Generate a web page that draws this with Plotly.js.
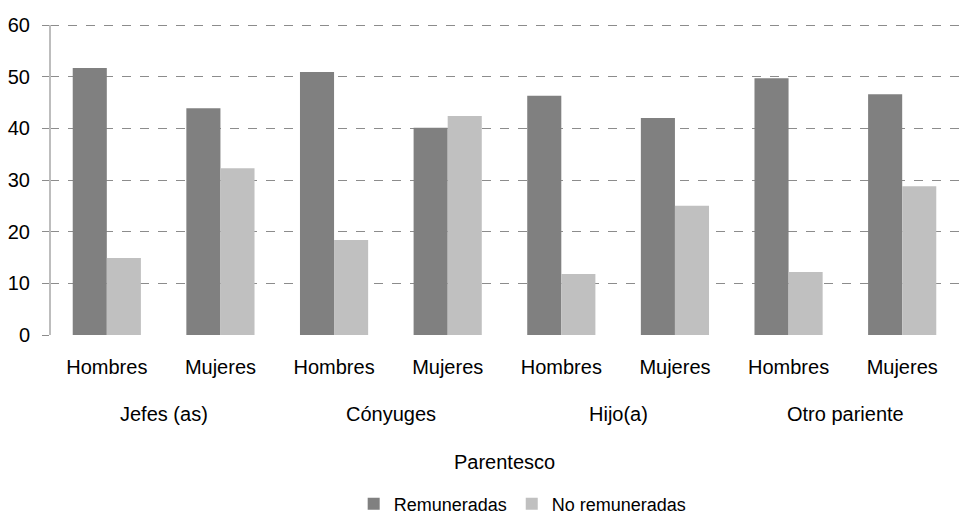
<!DOCTYPE html>
<html>
<head>
<meta charset="utf-8">
<script src="https://cdn.plot.ly/plotly-3.0.1.min.js"></script>
<style>html,body{margin:0;padding:0;background:#fff;}#chart{width:959px;height:515px;}</style>
</head>
<body>
<div id="chart"></div>
<script>
const groups = ["Jefes (as)", "Cónyuges", "Hijo(a)", "Otro pariente"];
const sexes = ["Hombres", "Mujeres"];
const remuneradas = [51.7, 43.9, 50.9, 40.1, 46.3, 42.0, 49.7, 46.6];
const noRemuneradas = [14.9, 32.3, 18.4, 42.4, 11.8, 25.0, 12.2, 28.8];
const seriesNames = ["Remuneradas", "No remuneradas"];
const axisTitle = "Parentesco";
const yMax = 60;

const tickText = [];
groups.forEach(() => sexes.forEach(s => tickText.push(s)));
const xs = tickText.map((_, i) => i);

const font = {family: "Liberation Sans, Arial, sans-serif", color: "#000"};

const data = [
  {type: "bar", name: seriesNames[0], x: xs, y: remuneradas, marker: {color: "#808080"}},
  {type: "bar", name: seriesNames[1], x: xs, y: noRemuneradas, marker: {color: "#c0c0c0"}}
];

// plot area: 320px tall (t=15,b=180) → 0 at y=335, 60 at y=25
const H = 320;
const annotations = groups.map((g, gi) => ({
  text: g, x: gi * sexes.length + (sexes.length - 1) / 2, xref: "x",
  y: -79 / H, yref: "paper", yanchor: "middle", xanchor: "center",
  showarrow: false, font: Object.assign({size: 20}, font)
}));
annotations.push({
  text: axisTitle, x: 0.5, xref: "paper", y: -127 / H, yref: "paper",
  yanchor: "middle", xanchor: "center", showarrow: false,
  font: Object.assign({size: 20}, font)
});

const layout = {
  width: 959, height: 515,
  margin: {l: 50, r: 0, t: 15, b: 180, autoexpand: false},
  paper_bgcolor: "#fff", plot_bgcolor: "#fff",
  font: font,
  barmode: "group", bargap: 0.4, bargroupgap: 0,
  showlegend: true,
  legend: {orientation: "h", x: 0.52, xanchor: "center", y: -169 / H, yanchor: "middle",
           font: Object.assign({size: 18}, font), itemwidth: 30, traceorder: "normal"},
  xaxis: {
    range: [-0.5, xs.length - 0.5], automargin: false,
    tickmode: "array", tickvals: xs, ticktext: tickText,
    tickfont: Object.assign({size: 20}, font),
    showgrid: false, zeroline: false, showline: false, ticks: "",
    ticklabelstandoff: 18
  },
  yaxis: {
    range: [0, 61.94], dtick: 10, tick0: 0, tickmode: "linear", automargin: false,
    tickfont: Object.assign({size: 20}, font),
    showgrid: true, gridcolor: "#8c8c8c", griddash: "dash", gridwidth: 1,
    zeroline: false, showline: false,
    ticks: "outside", ticklen: 7, tickcolor: "#8c8c8c", ticklabelstandoff: 8
  },
  shapes: [{type: "line", xref: "paper", yref: "y", x0: 0, x1: 0, y0: 0, y1: yMax,
            line: {color: "#bdbdbd", width: 2}, layer: "above"}],
  annotations: annotations
};

Plotly.newPlot("chart", data, layout, {displayModeBar: false, staticPlot: true});
</script>
</body>
</html>
